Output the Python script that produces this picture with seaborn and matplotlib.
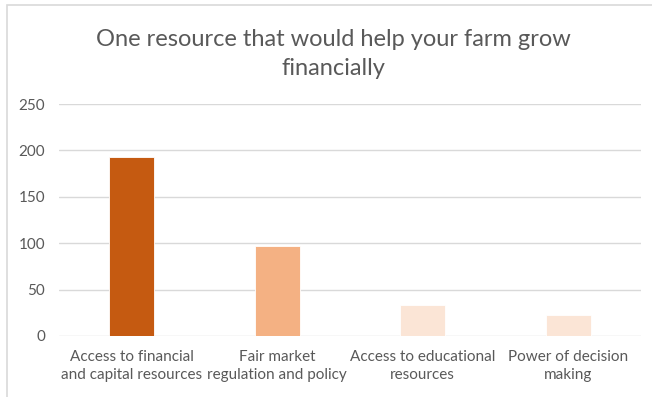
import matplotlib
matplotlib.use("Agg")
import matplotlib.pyplot as plt
import seaborn as sns
import pandas as pd
from matplotlib.patches import Rectangle

categories = ["Access to financial\nand capital resources",
              "Fair market\nregulation and policy",
              "Access to educational\nresources",
              "Power of decision\nmaking"]
values = [193, 97, 33, 23]
colors = ["#C55A11", "#F4B183", "#FBE5D6", "#FBE5D6"]
yticks = [0, 50, 100, 150, 200, 250]
title = "One resource that would help your farm grow\nfinancially"

sns.set_theme(style="white")
plt.rcParams['font.family'] = ['Lato', 'DejaVu Sans']

df = pd.DataFrame({"cat": categories, "val": values})

fig = plt.figure(figsize=(6.52, 3.97), dpi=100)
ax = fig.add_axes([0.0905, 0.1537, 0.8925, 0.5843])
sns.barplot(data=df, x="cat", y="val", hue="cat", palette=colors, legend=False,
            width=0.31, ax=ax, saturation=1, edgecolor="white", linewidth=0.6)

ax.set_ylim(0, 250)
ax.set_yticks(yticks)
ax.set_xlim(-0.5, 3.5)
ax.yaxis.grid(True, color="#D9D9D9", linewidth=1.0)
ax.set_axisbelow(True)
for s in ax.spines.values():
    s.set_visible(False)
ax.set_xlabel("")
ax.set_ylabel("")
ax.tick_params(axis="both", length=0, colors="#595959", labelsize=11)
ax.tick_params(axis="y", pad=10)
ax.tick_params(axis="x", pad=10)
for lab in ax.get_xticklabels():
    lab.set_linespacing(1.4)

fig.text(0.511, 0.864, title, ha="center", va="center", fontsize=17,
         color="#595959", linespacing=1.45)

fig.patches.append(Rectangle((0.0107, -0.2), 1.2, 1.2 - 0.0126 + 0.0, transform=fig.transFigure,
                             fill=False, edgecolor="#D9D9D9", linewidth=1.2))

fig.savefig("out.png", dpi=100)
